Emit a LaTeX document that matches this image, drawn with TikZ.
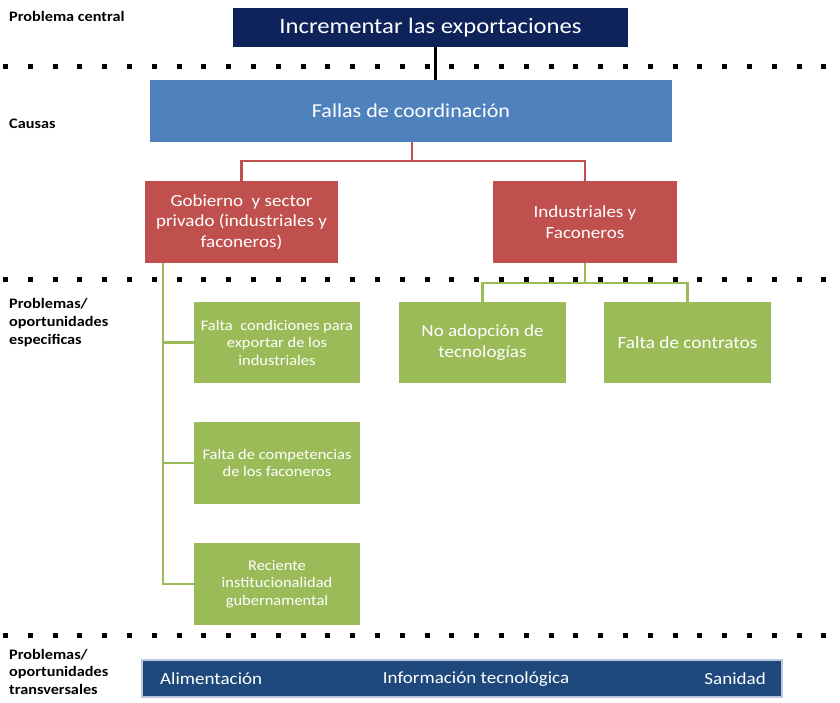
\documentclass[tikz,border=0pt]{standalone}
\usepackage{fontspec}
\setmainfont{Carlito}[FakeStretch=1.12]
\definecolor{navy}{HTML}{0F235B}
\definecolor{cblue}{HTML}{4F81BD}
\definecolor{cred}{HTML}{C0504D}
\definecolor{cgreen}{HTML}{9BBB59}
\definecolor{cbar}{HTML}{1F497D}
\definecolor{cbarrim}{HTML}{B9C8DC}
\begin{document}
\begin{tikzpicture}[x=1pt,y=-1pt,
  box/.style={rectangle, inner sep=0pt, text=white, align=center},
  lbl/.style={anchor=north west, inner sep=0pt, align=left, font=\bfseries\fontsize{14.5}{18}\selectfont},
  dotline/.style={line width=5pt, dash pattern=on 5pt off 19.8pt},
  redline/.style={draw=cred, line width=2.5pt},
  greenline/.style={draw=cgreen, line width=2.5pt},
  ]
\useasboundingbox (0,0) rectangle (840,702);
% dotted separators
\draw[dotline] (3,66) -- (832,66);
\draw[dotline] (3,279) -- (832,279);
\draw[dotline] (3,635) -- (832,635);
% row labels
\node[lbl] (l1) at (9,11) {Problema central};
\node[lbl] (l2) at (9,119) {Causas};
\node[lbl] (l3) at (9,298.5) {Problemas/\\oportunidades\\especificas};
\node[lbl, font=\bfseries\fontsize{14.5}{17.5}\selectfont] (l4) at (9,649) {Problemas/\\oportunidades\\transversales};
% boxes
\node[box, fill=navy, minimum width=395pt, minimum height=39pt, font=\fontsize{22}{25}\selectfont] (top) at (430.5,27.5) {Incrementar las exportaciones};
\node[box, fill=cblue, minimum width=522pt, minimum height=62pt, font=\fontsize{19.7}{23}\selectfont] (fallas) at (411,111) {Fallas de coordinación};
\node[box, fill=cred, minimum width=193pt, minimum height=82pt, font=\fontsize{17}{20.5}\selectfont] (g1) at (241.5,222) {Gobierno\ \ y sector\\privado (industriales y\\faconeros)};
\node[box, fill=cred, minimum width=184pt, minimum height=82pt, font=\fontsize{17}{20.5}\selectfont] (g2) at (585,222) {Industriales y\\Faconeros};
\node[box, fill=cgreen, minimum width=166pt, minimum height=81pt, font=\fontsize{14.7}{17.5}\selectfont] (a) at (277,342.5) {Falta\ \ condiciones para\\exportar de los\\industriales};
\node[box, fill=cgreen, minimum width=166pt, minimum height=82pt, font=\fontsize{14.7}{17.5}\selectfont] (b) at (277,463) {Falta de competencias\\de los faconeros};
\node[box, fill=cgreen, minimum width=166pt, minimum height=82pt, font=\fontsize{14.7}{17.5}\selectfont] (c) at (277,584) {Reciente\\institucionalidad\\gubernamental};
\node[box, fill=cgreen, minimum width=167pt, minimum height=81pt, font=\fontsize{17}{21}\selectfont] (d) at (482.5,342.5) {No adopción de\\tecnologías};
\node[box, fill=cgreen, minimum width=167pt, minimum height=81pt, font=\fontsize{17.2}{20}\selectfont] (e) at (687.5,342.5) {Falta de contratos};
\node[box, fill=cbar, draw=cbarrim, line width=1.5pt, minimum width=640pt, minimum height=37pt] (bar) at (462,678.5) {};
\node[anchor=west, inner sep=0pt, text=white, font=\fontsize{17}{19}\selectfont] (t1) at (160,679) {Alimentación};
\node[inner sep=0pt, text=white, font=\fontsize{17}{19}\selectfont] (t2) at (476,679) {Información tecnológica};
\node[anchor=east, inner sep=0pt, text=white, font=\fontsize{17}{19}\selectfont] (t3) at (766,679) {Sanidad};
% connectors
\coordinate (bk) at (435,60);
\draw[line width=3pt] (top.south -| bk) -- (fallas.north -| bk);
\coordinate (rj) at (412,161);
\draw[redline] (fallas.south -| rj) -- (rj);
\draw[redline] (g1.north) |- (rj) -| (g2.north);
\coordinate (gv) at (163,400);
\draw[greenline] (g1.south -| gv) |- (c.west);
\draw[greenline] (gv |- a.west) -- (a.west);
\draw[greenline] (gv |- b.west) -- (b.west);
\coordinate (gj) at (585,283);
\draw[greenline] (g2.south) -- (gj);
\draw[greenline] (d.north) |- (gj) -| (e.north);
\end{tikzpicture}
\end{document}
